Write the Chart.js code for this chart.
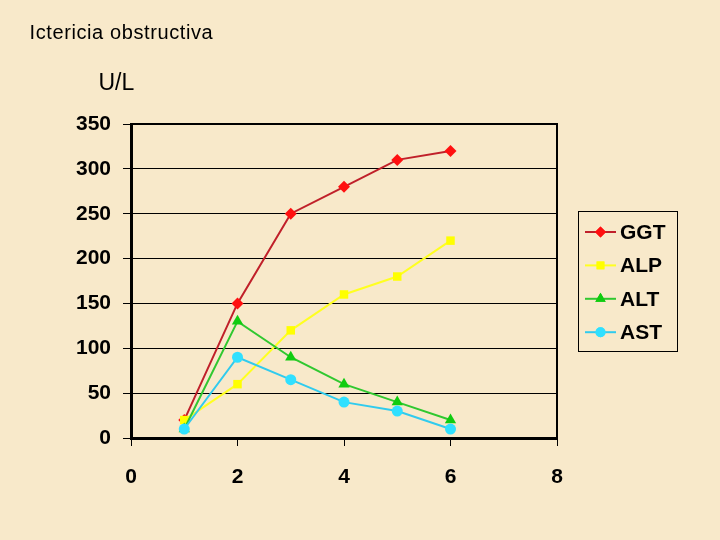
<!DOCTYPE html>
<html>
<head>
<meta charset="utf-8">
<script src="https://cdn.jsdelivr.net/npm/chart.js@4/dist/chart.umd.min.js"></script>
<style>
  html, body { margin: 0; padding: 0; background: #f8e9ca; }
  #wrap { position: relative; width: 720px; height: 540px; background: #f8e9ca; }
  canvas { display: block; }
</style>
</head>
<body>
<div id="wrap"><canvas id="c" width="720" height="540"></canvas></div>
<script>
// ---- data ----
const chartTitle = "Ictericia obstructiva";
const unitLabel = "U/L";
const xValues = [1, 2, 3, 4, 5, 6];
const seriesNames = ["GGT", "ALP", "ALT", "AST"];
const ggt = [20, 150, 250, 280, 310, 320];
const alp = [20, 60, 120, 160, 180, 220];
const alt = [10, 130, 90, 60, 40, 20];
const ast = [10, 90, 65, 40, 30, 10];
const yMin = 0, yMax = 350, yStep = 50;
const xMin = 0, xMax = 8, xStep = 2;

const toPts = arr => arr.map((v, i) => ({ x: xValues[i], y: v }));

const FONT = "'Liberation Sans', Arial, sans-serif";

const styles = [
  { line: '#c0202a', point: '#ff1010', shape: 'rectRot', r: 6 },
  { line: '#ffff20', point: '#ffff00', shape: 'rect', r: 6 },
  { line: '#30c830', point: '#10cc10', shape: 'triangle', r: 6.5 },
  { line: '#30cbee', point: '#30e0ff', shape: 'circle', r: 5.5 }
];
const seriesData = [ggt, alp, alt, ast];

const datasets = seriesNames.map((name, i) => ({
  label: name,
  data: toPts(seriesData[i]),
  order: seriesNames.length - i,
  borderColor: styles[i].line,
  backgroundColor: styles[i].point,
  pointBackgroundColor: styles[i].point,
  pointBorderColor: styles[i].point,
  pointStyle: styles[i].shape,
  pointRadius: styles[i].r,
  pointBorderWidth: 0,
  borderWidth: 2,
  tension: 0,
  fill: false
}));

const frameAndText = {
  id: 'frameAndText',
  beforeDatasetsDraw(chart) {
    const { ctx, chartArea: a } = chart;
    ctx.save();
    ctx.strokeStyle = '#000';
    ctx.lineWidth = 2;
    ctx.beginPath();
    ctx.moveTo(a.left, a.top);
    ctx.lineTo(a.right, a.top);
    ctx.lineTo(a.right, a.bottom);
    ctx.stroke();
    ctx.restore();
  },
  afterDraw(chart) {
    const { ctx, chartArea: a } = chart;
    ctx.save();
    // title
    ctx.fillStyle = '#000';
    ctx.textBaseline = 'alphabetic';
    ctx.textAlign = 'left';
    ctx.font = "20px " + FONT;
    if ('letterSpacing' in ctx) ctx.letterSpacing = '0.6px';
    ctx.fillText(chartTitle, 29.5, 39);
    if ('letterSpacing' in ctx) ctx.letterSpacing = '0px';
    ctx.font = "23px " + FONT;
    ctx.fillText(unitLabel, 98.5, 90);

    // legend
    const bx = a.right + 21, by = a.top + 87, bw = 99, bh = 140;
    ctx.fillStyle = '#f8e9ca';
    ctx.fillRect(bx, by, bw, bh);
    ctx.strokeStyle = '#000';
    ctx.lineWidth = 1;
    ctx.strokeRect(bx + 0.5, by + 0.5, bw, bh);
    chart.data.datasets.forEach((ds, i) => {
      const cy = by + 21 + i * 33.4;
      ctx.strokeStyle = ds.borderColor;
      ctx.lineWidth = 2;
      ctx.beginPath();
      ctx.moveTo(bx + 7, cy);
      ctx.lineTo(bx + 38, cy);
      ctx.stroke();
      ctx.fillStyle = ds.pointBackgroundColor;
      Chart.helpers.drawPoint(ctx, {
        pointStyle: ds.pointStyle,
        radius: ds.pointRadius - 0.5,
        rotation: 0,
        borderWidth: 0
      }, bx + 22.5, cy);
      ctx.fill();
      ctx.fillStyle = '#000';
      ctx.font = "bold 21px " + FONT;
      ctx.textBaseline = 'middle';
      ctx.textAlign = 'left';
      ctx.fillText(ds.label, bx + 42, cy + 1);
    });
    ctx.restore();
  }
};

new Chart(document.getElementById('c'), {
  type: 'line',
  data: { datasets },
  options: {
    responsive: false,
    animation: false,
    devicePixelRatio: 1,
    layout: { padding: { left: 0, right: 163, top: 124, bottom: 0 } },
    plugins: {
      legend: { display: false },
      title: { display: false },
      tooltip: { enabled: false }
    },
    scales: {
      x: {
        type: 'linear',
        min: xMin, max: xMax,
        afterFit(s) { s.height = 102; },
        ticks: {
          stepSize: xStep,
          color: '#000',
          padding: 19,
          font: { family: FONT, size: 21, weight: 'bold' }
        },
        grid: {
          drawOnChartArea: false,
          drawTicks: true,
          tickLength: 8,
          color: '#000',
          lineWidth: 1
        },
        border: { display: true, color: '#000', width: 3 }
      },
      y: {
        type: 'linear',
        min: yMin, max: yMax,
        afterFit(s) { s.width = 131; },
        ticks: {
          stepSize: yStep,
          color: '#000',
          padding: 12,
          font: { family: FONT, size: 21, weight: 'bold' }
        },
        grid: {
          color: '#000',
          lineWidth: 1,
          tickLength: 8,
          drawTicks: true
        },
        border: { display: true, color: '#000', width: 3 }
      }
    }
  },
  plugins: [frameAndText]
});
</script>
</body>
</html>
